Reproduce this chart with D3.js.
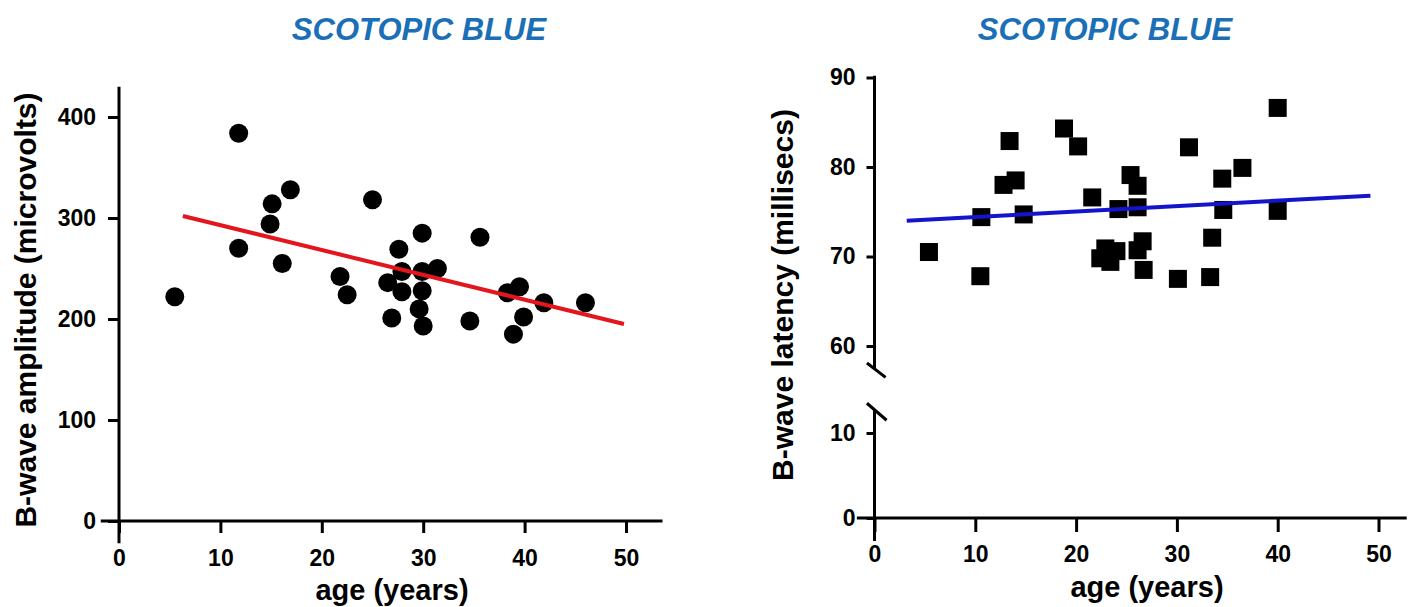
<!DOCTYPE html>
<html>
<head>
<meta charset="utf-8">
<script src="https://cdn.jsdelivr.net/npm/d3@7"></script>
<style>
  html, body { margin: 0; padding: 0; background: #fff; }
  svg { display: block; font-family: "Liberation Sans", Arial, sans-serif; }
</style>
</head>
<body>
<svg id="chart" width="1411" height="607"></svg>
<script>
// ---------- data ----------
const chartTitle = "SCOTOPIC BLUE";
const xTitle = "age (years)";
const leftYTitle = "B-wave amplitude (microvolts)";
const rightYTitle = "B-wave latency (millisecs)";

const xTicks = [0, 10, 20, 30, 40, 50];
const leftYTicks = [0, 100, 200, 300, 400];
const rightUpperTicks = [60, 70, 80, 90];
const rightLowerTicks = [0, 10];

// left panel: b-wave amplitude vs age
const leftAge = [5.5, 11.8, 11.8, 15.1, 14.9, 16.9, 16.1, 25.0, 21.8, 22.5,
                 27.6, 29.9, 35.6, 27.9, 26.5, 27.9, 29.9, 31.4, 29.9, 29.6,
                 26.9, 30.0, 34.6, 38.3, 39.5, 41.9, 46.0, 39.9, 38.9];
const leftAmp = [222, 384, 270, 314, 294, 328, 255, 318, 242, 224,
                 269, 285, 281, 247, 236, 227, 247, 250, 228, 210,
                 201, 193, 198, 226, 232, 216, 216, 202, 185];
const leftFitAge = [6.3, 49.8];
const leftFitAmp = [302, 195];

// right panel: b-wave latency vs age
const rightAge = [5.4, 10.5, 10.6, 13.4, 12.8, 14.0, 14.8, 18.8, 20.2, 21.6,
                  24.2, 25.4, 26.1, 26.1, 22.9, 22.4, 23.4, 24.0, 26.6, 26.1,
                  26.7, 30.1, 31.2, 33.3, 33.5, 34.5, 34.6, 36.5, 40.0, 40.0];
const rightLat = [70.5, 67.8, 74.4, 82.9, 78.0, 78.5, 74.7, 84.3, 82.3, 76.6,
                  75.3, 79.1, 77.9, 75.5, 70.9, 69.8, 69.4, 70.6, 71.7, 70.7,
                  68.5, 67.5, 82.2, 67.7, 72.1, 78.7, 75.2, 79.9, 86.6, 75.1];
const rightFitAge = [3.2, 49.2];
const rightFitLat = [74.0, 76.8];

// ---------- drawing ----------
const svg = d3.select("#chart");
const AXW = 3;
const titleColor = "#1b6fb7";

// Left scales
const xL = d3.scaleLinear().domain([0, 50]).range([119, 626]);
const yL = d3.scaleLinear().domain([0, 400]).range([521, 117]);

// Right scales
const xR = d3.scaleLinear().domain([0, 50]).range([874.5, 1378.5]);
const yRU = d3.scaleLinear().domain([60, 90]).range([346, 77.5]);
const yRL = d3.scaleLinear().domain([0, 10]).range([518, 433]);

function styleAxis(g) {
  g.select(".domain").remove();
  g.selectAll(".tick line").attr("stroke", "#000").attr("stroke-width", AXW);
  g.selectAll(".tick text")
    .attr("fill", "#000")
    .style("font-size", "23px")
    .style("font-weight", "bold")
    .style("font-family", "\"Liberation Sans\", Arial, sans-serif");
}

function line(g, x1, y1, x2, y2, w) {
  g.append("line").attr("x1", x1).attr("y1", y1).attr("x2", x2).attr("y2", y2)
    .attr("stroke", "#000").attr("stroke-width", w || AXW).attr("stroke-linecap", "butt");
}

// ===== LEFT PANEL =====
const gL = svg.append("g");
gL.append("text").attr("x", 419).attr("y", 40).attr("text-anchor", "middle")
  .attr("fill", titleColor).style("font-size", "31px").style("font-weight", "bold")
  .style("font-style", "italic").text(chartTitle);

gL.append("g").attr("transform", `translate(${xL(0)},0)`)
  .call(d3.axisLeft(yL).tickValues(leftYTicks).tickSize(11).tickPadding(12).tickFormat(d3.format("d")))
  .call(styleAxis);
gL.append("g").attr("transform", `translate(0,${yL(0)})`)
  .call(d3.axisBottom(xL).tickValues(xTicks).tickSize(12).tickPadding(17).tickFormat(d3.format("d")))
  .call(styleAxis);

line(gL, xL(0), yL(430), xL(0), yL(-22));
line(gL, xL(-1.8), yL(0), xL(53.6), yL(0));

gL.selectAll("circle.pt").data(leftAge.map((a, i) => [a, leftAmp[i]]))
  .join("circle").attr("class", "pt")
  .attr("cx", d => xL(d[0])).attr("cy", d => yL(d[1])).attr("r", 9.5).attr("fill", "#000");

gL.append("line")
  .attr("x1", xL(leftFitAge[0])).attr("y1", yL(leftFitAmp[0]))
  .attr("x2", xL(leftFitAge[1])).attr("y2", yL(leftFitAmp[1]))
  .attr("stroke", "#e3161d").attr("stroke-width", 4);

gL.append("text").attr("x", 392).attr("y", 600).attr("text-anchor", "middle")
  .style("font-size", "29px").style("font-weight", "bold").text(xTitle);
gL.append("text").attr("transform", "translate(36,310) rotate(-90)").attr("text-anchor", "middle")
  .style("font-size", "30px").style("font-weight", "bold").text(leftYTitle);

// ===== RIGHT PANEL =====
const gR = svg.append("g");
gR.append("text").attr("x", 1105).attr("y", 40).attr("text-anchor", "middle")
  .attr("fill", titleColor).style("font-size", "31px").style("font-weight", "bold")
  .style("font-style", "italic").text(chartTitle);

gR.append("g").attr("transform", `translate(${xR(0)},0)`)
  .call(d3.axisLeft(yRU).tickValues(rightUpperTicks).tickSize(8).tickPadding(11).tickFormat(d3.format("d")))
  .call(styleAxis);
gR.append("g").attr("transform", `translate(${xR(0)},0)`)
  .call(d3.axisLeft(yRL).tickValues(rightLowerTicks).tickSize(8).tickPadding(11).tickFormat(d3.format("d")))
  .call(styleAxis);
gR.append("g").attr("transform", `translate(0,${yRL(0)})`)
  .call(d3.axisBottom(xR).tickValues(xTicks).tickSize(14).tickPadding(14).tickFormat(d3.format("d")))
  .call(styleAxis);

// upper y segment + break
line(gR, xR(0), yRU(90.2), xR(0), yRU(57.5));
line(gR, xR(-0.75), yRU(58.1), xR(1.1), yRU(56.5));
// lower y segment + break
line(gR, xR(-0.75), yRL(13.5), xR(1.2), yRL(11.5));
line(gR, xR(0), yRL(12.8), xR(0), yRL(-2.7));
// x axis
line(gR, xR(-1.75), yRL(0), xR(52.8), yRL(0));

const sq = 18;
gR.selectAll("rect.pt").data(rightAge.map((a, i) => [a, rightLat[i]]))
  .join("rect").attr("class", "pt")
  .attr("x", d => xR(d[0]) - sq / 2).attr("y", d => yRU(d[1]) - sq / 2)
  .attr("width", sq).attr("height", sq).attr("fill", "#000");

gR.append("line")
  .attr("x1", xR(rightFitAge[0])).attr("y1", yRU(rightFitLat[0]))
  .attr("x2", xR(rightFitAge[1])).attr("y2", yRU(rightFitLat[1]))
  .attr("stroke", "#1414cc").attr("stroke-width", 4);

gR.append("text").attr("x", 1147).attr("y", 597).attr("text-anchor", "middle")
  .style("font-size", "29px").style("font-weight", "bold").text(xTitle);
gR.append("text").attr("transform", "translate(793,295) rotate(-90)").attr("text-anchor", "middle")
  .style("font-size", "30px").style("font-weight", "bold").text(rightYTitle);
</script>
</body>
</html>
